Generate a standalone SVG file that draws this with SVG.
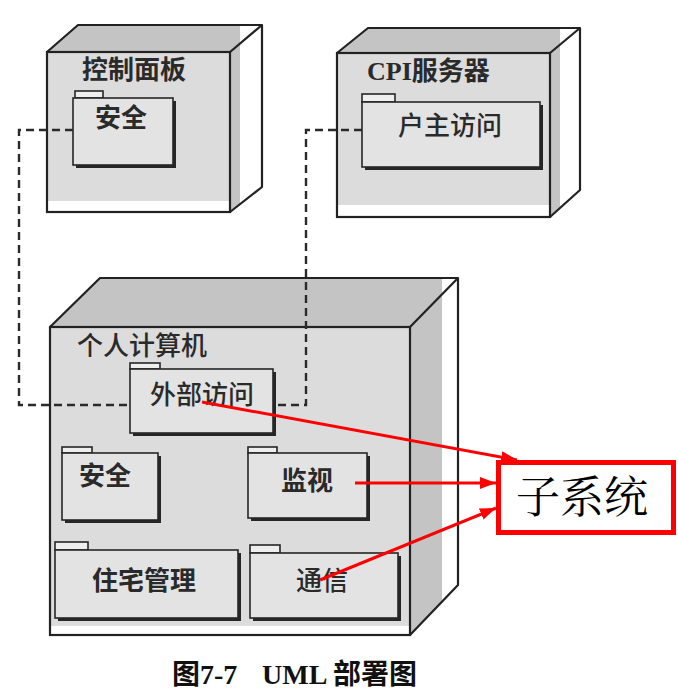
<svg xmlns="http://www.w3.org/2000/svg" width="678" height="696" viewBox="0 0 678 696">
<defs>
<linearGradient id="gN1" gradientUnits="userSpaceOnUse" x1="47" y1="0" x2="262" y2="0"><stop offset="0.898" stop-color="#c4c4c4"/><stop offset="0.898" stop-color="#ffffff"/></linearGradient>
<linearGradient id="gN2" gradientUnits="userSpaceOnUse" x1="337" y1="0" x2="580" y2="0"><stop offset="0.918" stop-color="#c4c4c4"/><stop offset="0.918" stop-color="#ffffff"/></linearGradient>
<linearGradient id="gN3" gradientUnits="userSpaceOnUse" x1="50" y1="0" x2="458" y2="0"><stop offset="0.961" stop-color="#c4c4c4"/><stop offset="0.961" stop-color="#ffffff"/></linearGradient>
<marker id="arrow" markerUnits="userSpaceOnUse" markerWidth="16" markerHeight="12" refX="16" refY="6" orient="auto"><path d="M0,0 L16,6 L0,12 z" fill="#ff0000"/></marker>
<style>
.edge{fill:none;stroke:#222;stroke-width:2.2;stroke-linejoin:round}
.front{fill:#dcdcdc}
.strip{fill:#ffffff}
.frame{fill:none;stroke:#222;stroke-width:2.2}
.ntitle{font-family:"Noto Sans CJK SC","Noto Sans",sans-serif;font-size:26px;font-weight:bold;fill:#2a2a2a}
.ntitle2{font-family:"Noto Sans CJK SC","Noto Sans",sans-serif;font-size:26px;font-weight:500;fill:#2a2a2a}
.serifb{font-family:"Liberation Serif",serif;font-weight:bold}
.pshadow{fill:#262626}
.pbody{fill:#e3e3e3;stroke:#262626;stroke-width:1.6}
.ptab{fill:#eeeeee;stroke:#262626;stroke-width:1.6}
.plabel{font-family:"Noto Sans CJK SC","Noto Sans",sans-serif;font-size:26px;font-weight:500;fill:#2a2a2a;text-anchor:middle}
.pb{font-weight:bold}
.dash{fill:none;stroke:#2a2a2a;stroke-width:2.4;stroke-dasharray:8 5}
.red{fill:none;stroke:#ff0000;stroke-width:3;marker-end:url(#arrow)}
</style>
</defs>
<rect width="678" height="696" fill="#ffffff"/>

<g id="node-control-panel">
<polygon points="47,52 78,25 262,25 262,187 230,212 47,212" fill="url(#gN1)"/>
<rect class="front" x="47" y="52" width="183" height="160"/>
<rect class="strip" x="47" y="201" width="183" height="11"/>
<polyline class="edge" points="47,52 78,25 262,25 262,187 230,212"/>
<line class="edge" x1="230" y1="52" x2="262" y2="25"/>
<rect class="frame" x="47" y="52" width="183" height="160"/>
<text class="ntitle" x="82" y="79">控制面板</text>
<g id="pkg-security-1">
<rect class="ptab" x="75" y="91" width="28" height="7"/>
<rect class="pshadow" x="76" y="101" width="100" height="67"/>
<rect class="pbody" x="73" y="98" width="100" height="67"/>
<text class="plabel pb" x="121" y="127">安全</text>
</g>
</g>

<g id="node-cpi-server">
<polygon points="337,53 368,28 580,28 580,190 550,217 337,217" fill="url(#gN2)"/>
<rect class="front" x="337" y="53" width="213" height="164"/>
<rect class="strip" x="337" y="205" width="213" height="12"/>
<polyline class="edge" points="337,53 368,28 580,28 580,190 550,217"/>
<line class="edge" x1="550" y1="53" x2="580" y2="28"/>
<rect class="frame" x="337" y="53" width="213" height="164"/>
<text class="ntitle" x="367" y="80"><tspan class="serifb">CPI</tspan>服务器</text>
<g id="pkg-owner-access">
<rect class="ptab" x="362" y="94" width="33" height="8"/>
<rect class="pshadow" x="365" y="105" width="178" height="65"/>
<rect class="pbody" x="362" y="102" width="178" height="65"/>
<text class="plabel" x="450" y="135">户主访问</text>
</g>
</g>

<g id="node-pc">
<polygon points="50,327 100,278 458,278 458,585 410,635 50,635" fill="url(#gN3)"/>
<rect class="front" x="50" y="327" width="360" height="308"/>
<rect class="strip" x="50" y="626" width="360" height="9"/>
<polyline class="edge" points="50,327 100,278 458,278 458,585 410,635"/>
<line class="edge" x1="410" y1="327" x2="458" y2="278"/>
<rect class="frame" x="50" y="327" width="360" height="308"/>
<text class="ntitle2" x="77" y="355">个人计算机</text>
</g>

<g id="connectors">
<path class="dash" d="M73,130 H19 V405 H130"/>
<path class="dash" d="M362,130 H306 V405 H273"/>
</g>

<g id="pkg-external-access">
<rect class="ptab" x="130" y="363" width="30" height="6"/>
<rect class="pshadow" x="133" y="372" width="143" height="64"/>
<rect class="pbody" x="130" y="369" width="143" height="64"/>
<text class="plabel" x="202" y="404">外部访问</text>
</g>
<g id="pkg-security-2">
<rect class="ptab" x="62" y="447" width="30" height="6"/>
<rect class="pshadow" x="65" y="456" width="96" height="67"/>
<rect class="pbody" x="62" y="453" width="96" height="67"/>
<text class="plabel pb" x="105" y="485">安全</text>
</g>
<g id="pkg-monitor">
<rect class="ptab" x="248" y="447" width="29" height="6"/>
<rect class="pshadow" x="251" y="456" width="119" height="65"/>
<rect class="pbody" x="248" y="453" width="119" height="65"/>
<text class="plabel pb" x="307" y="490">监视</text>
</g>
<g id="pkg-home-mgmt">
<rect class="ptab" x="55" y="542" width="33" height="8"/>
<rect class="pshadow" x="58" y="553" width="183" height="68"/>
<rect class="pbody" x="55" y="550" width="183" height="68"/>
<text class="plabel pb" x="144" y="590">住宅管理</text>
</g>
<g id="pkg-comm">
<rect class="ptab" x="250" y="545" width="30" height="8"/>
<rect class="pshadow" x="253" y="556" width="148" height="65"/>
<rect class="pbody" x="250" y="553" width="148" height="65"/>
<text class="plabel" x="322" y="590">通信</text>
</g>

<g id="subsystem">
<rect x="498.5" y="462.5" width="175" height="70" fill="#ffffff" stroke="#ff0000" stroke-width="5"/>
<text x="582" y="513" font-family="'Noto Serif CJK SC','Noto Sans CJK SC',serif" font-size="44" text-anchor="middle" fill="#000">子系统</text>
</g>

<g id="red-arrows">
<line class="red" x1="202" y1="402" x2="517" y2="460"/>
<line class="red" x1="355" y1="483" x2="496" y2="483"/>
<line class="red" x1="320" y1="580" x2="496" y2="508"/>
</g>

<text x="172" y="684" font-family="'Liberation Serif','Noto Sans CJK SC',serif" font-size="28" font-weight="bold" fill="#111">图7-7<tspan x="262">UML</tspan><tspan x="333">部署图</tspan></text>
</svg>
